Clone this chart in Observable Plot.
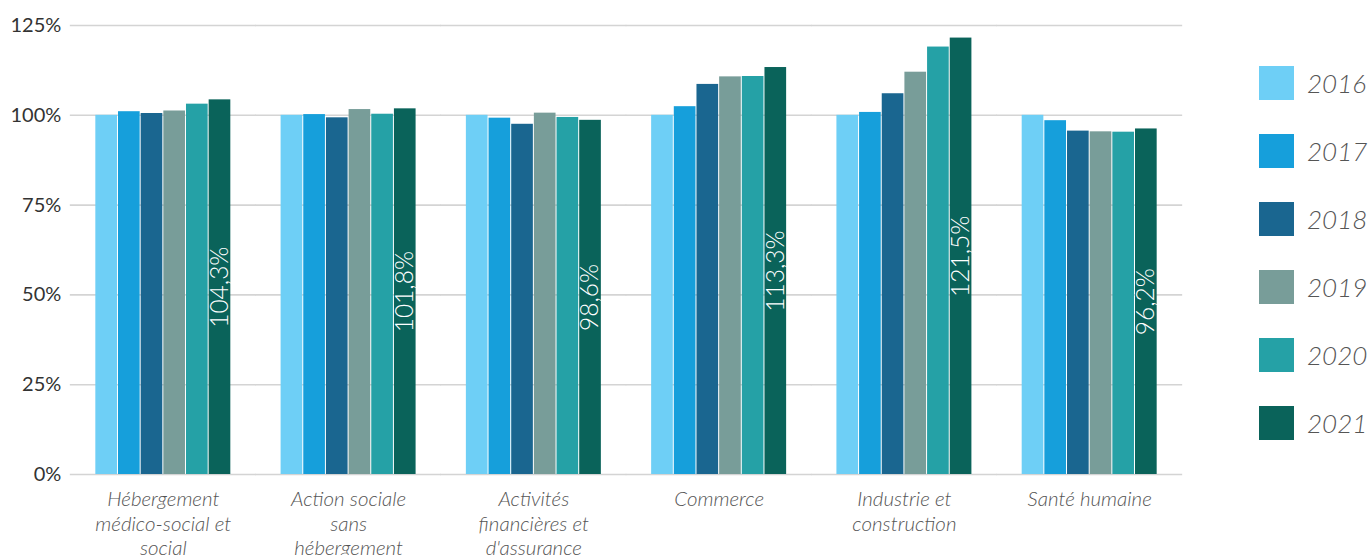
<!DOCTYPE html>
<html><head><meta charset="utf-8">
<script src="https://cdn.jsdelivr.net/npm/d3@7"></script>
<script src="https://cdn.jsdelivr.net/npm/@observablehq/plot@0.6"></script>
<style>
body{margin:0;background:#fff;font-family:Lato,sans-serif;}
#wrap{position:relative;width:1370px;height:555px;overflow:hidden}
#chart{position:absolute;left:0;top:0}
.lg-row{position:absolute;left:1259px;display:flex;align-items:center;height:34px}
.lg-sw{width:35px;height:34px;margin-right:13px}
.lg-tx{font-family:Lato,sans-serif;font-style:italic;font-weight:300;font-size:26px;color:#555}
</style></head><body><div id="wrap"><div id="chart"></div><div id="legend"></div></div>
<script>
const sectors = ["Hébergement médico-social et social","Action sociale sans hébergement","Activités financières et d'assurance","Commerce","Industrie et construction","Santé humaine"];
const sectorLines = ["Hébergement\nmédico-social et\nsocial","Action sociale\nsans\nhébergement","Activités\nfinancières et\nd'assurance","Commerce","Industrie et\nconstruction","Santé humaine"];
const years = ["2016","2017","2018","2019","2020","2021"];
const colors = ["#6ECFF6","#169FDB","#1A6690","#789D99","#25A1A6","#0A635A"];
const yTicks = [0,25,50,75,100,125];

const v2016 = [100.0,100.0,100.0,100.0,100.0,100.0];
const v2017 = [101.0,100.2,99.2,102.4,100.8,98.5];
const v2018 = [100.5,99.3,97.5,108.6,106.0,95.6];
const v2019 = [101.2,101.6,100.6,110.7,112.0,95.4];
const v2020 = [103.1,100.3,99.4,110.8,119.0,95.3];
const v2021 = [104.3,101.8,98.6,113.3,121.5,96.2];
const series = [v2016,v2017,v2018,v2019,v2020,v2021];

const data = [];
sectors.forEach((s,i)=>years.forEach((y,j)=>data.push({sector:s, year:y, value:series[j][i]})));
const fmt = v => v.toFixed(1).replace(".",",") + "%";

const plot = Plot.plot({
  width: 1200, height: 555,
  marginLeft: 70, marginRight: 18, marginTop: 25, marginBottom: 81,
  style: {fontFamily: "Lato, sans-serif", background: "transparent"},
  fx: {domain: sectors, paddingInner: 0.266, paddingOuter: 0.134, round: false, label: null, axis: null},
  x: {domain: years, padding: 0, round: false, axis: null},
  y: {domain: [0,125], axis: null},
  color: {domain: years, range: colors},
  marks: [
    Plot.ruleY(yTicks, {stroke: "#d4d4d4", strokeWidth: 1.6, insetLeft: -25, insetRight: -25}),
    Plot.axisY({ticks: yTicks, tickSize: 0, tickPadding: 34, fontSize: 20, fill: "#333", tickFormat: d => d + "%", label: null}),
    Plot.axisFx({anchor: "bottom", tickSize: 0, tickPadding: 14, fontSize: 20.5, fontStyle: "italic", fontWeight: 300, fill: "#555", lineHeight: 1.2, tickFormat: d => sectorLines[sectors.indexOf(d)], label: null}),
    Plot.barY(data, {fx: "sector", x: "year", y: "value", fill: "year", insetLeft: 0.5, insetRight: 0.5}),
    Plot.text(data.filter(d => d.year === "2021"), {fx: "sector", x: "year", y: d => d.value / 2, text: d => fmt(d.value), rotate: -90, fill: "white", fontSize: 24.5, fontWeight: 300})
  ]
});
document.getElementById("chart").appendChild(plot);

const lg = document.getElementById("legend");
years.forEach((y,i)=>{
  const row = document.createElement("div");
  row.className = "lg-row";
  row.style.top = (66 + 68*i) + "px";
  row.innerHTML = `<div class="lg-sw" style="background:${colors[i]}"></div><span class="lg-tx">${y}</span>`;
  lg.appendChild(row);
});
</script></body></html>
